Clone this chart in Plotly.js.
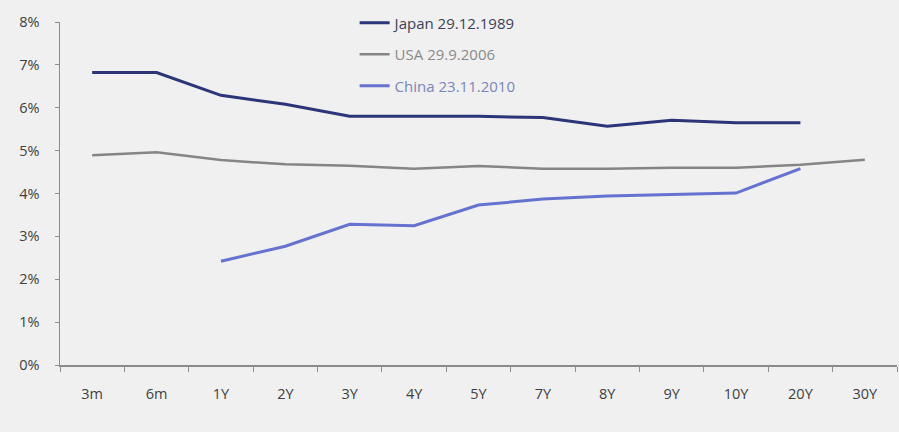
<!DOCTYPE html>
<html>
<head>
<meta charset="utf-8">
<script src="https://cdn.plot.ly/plotly-3.0.1.min.js"></script>
<style>html,body{margin:0;padding:0;background:#f0f0f0;}#chart{width:899px;height:432px;}</style>
</head>
<body>
<div id="chart"></div>
<script>
const maturities = ["3m","6m","1Y","2Y","3Y","4Y","5Y","7Y","8Y","9Y","10Y","20Y","30Y"];
const japan = [6.82, 6.82, 6.29, 6.08, 5.80, 5.80, 5.80, 5.77, 5.57, 5.71, 5.65, 5.65, null];
const usa   = [4.89, 4.96, 4.78, 4.68, 4.65, 4.58, 4.64, 4.58, 4.58, 4.60, 4.60, 4.67, 4.79];
const china = [null, null, 2.42, 2.77, 3.28, 3.25, 3.73, 3.87, 3.94, 3.97, 4.01, 4.58, null];
const seriesNames = ["Japan 29.12.1989", "USA 29.9.2006", "China 23.11.2010"];
const seriesColors = ["#2b3578", "#858585", "#6672d0"];
const textColors = ["#3b4256", "#8a8a8a", "#7a86b8"];

const ys = [japan, usa, china];
const traces = ys.map((y, i) => ({
  x: maturities,
  y: y,
  type: 'scatter',
  mode: 'lines',
  name: '<span style="color:' + textColors[i] + '">' + seriesNames[i] + '</span>',
  legendgroup: 'g' + i,
  connectgaps: false,
  line: {color: seriesColors[i], width: i === 1 ? 2.5 : 3},
  hoverinfo: 'skip'
}));

const layout = {
  width: 899, height: 432,
  margin: {l: 60, r: 2, t: 22, b: 67},
  paper_bgcolor: '#f0f0f0',
  plot_bgcolor: '#f0f0f0',
  font: {family: 'Open Sans, sans-serif', size: 14, color: '#404040'},
  showlegend: true,
  legend: {
    x: 0.352, y: 1.045, xanchor: 'left', yanchor: 'top',
    bgcolor: 'rgba(0,0,0,0)',
    font: {size: 15, family: 'Open Sans, sans-serif'},
    traceorder: 'grouped',
    tracegroupgap: 9,
    itemwidth: 30
  },
  xaxis: {
    type: 'category',
    range: [-0.5, 12.5],
    showgrid: false, zeroline: false,
    showline: true, linecolor: '#8c8c8c', linewidth: 1.5,
    ticks: 'outside', ticklen: 5, tickcolor: '#8c8c8c', tickson: 'boundaries',
    ticklabelstandoff: 15,
    tickfont: {size: 14.5, color: '#404040'}
  },
  yaxis: {
    range: [0, 8], dtick: 1, tick0: 0,
    ticksuffix: '%',
    showgrid: false, zeroline: false,
    showline: true, linecolor: '#8c8c8c', linewidth: 1.5,
    ticks: 'outside', ticklen: 4, tickcolor: '#8c8c8c',
    ticklabelstandoff: 12,
    tickfont: {size: 14.5, color: '#404040'}
  }
};

Plotly.newPlot('chart', traces, layout, {displayModeBar: false, staticPlot: true});
</script>
</body>
</html>
